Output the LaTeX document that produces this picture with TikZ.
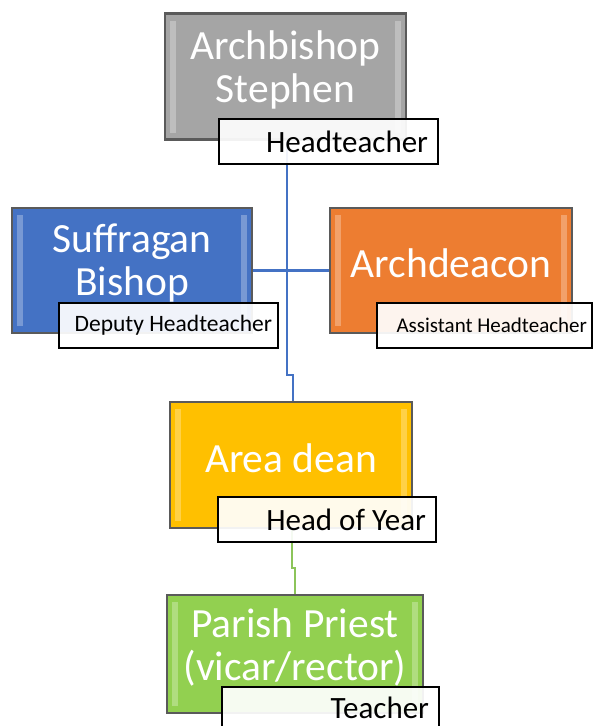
\documentclass[tikz,border=0pt]{standalone}
\usepackage{fontspec}
\setmainfont{Carlito}
\usetikzlibrary{positioning,backgrounds}
\definecolor{archgrey}{HTML}{A5A5A5}
\definecolor{suffblue}{HTML}{4472C4}
\definecolor{deaconorange}{HTML}{ED7D31}
\definecolor{deangold}{HTML}{FFC000}
\definecolor{priestgreen}{HTML}{92D050}
\definecolor{rimgrey}{HTML}{5A5A5A}
\definecolor{linkblue}{HTML}{4472C4}
\definecolor{linkgreen}{HTML}{8CC45A}

\begin{document}
\begin{tikzpicture}
[x=1pt,y=-1pt,
 rank/.style={rectangle,draw=rimgrey,line width=2.5pt,inner sep=0pt,
   minimum width=241pt,minimum height=126pt,
   path picture={
     \fill[white,opacity=0.28] ([xshift=5pt,yshift=-7pt]path picture bounding box.north west)
       rectangle ([xshift=11pt,yshift=7pt]path picture bounding box.south west);
     \fill[white,opacity=0.28] ([xshift=-5pt,yshift=-7pt]path picture bounding box.north east)
       rectangle ([xshift=-11pt,yshift=7pt]path picture bounding box.south east);}},
 ranktext/.style={text=white,align=center,inner sep=0pt,yshift=7pt,
   font=\fontsize{41.5}{43}\selectfont},
 role/.style={rectangle,draw=black,line width=1.3pt,fill=white,fill opacity=0.92,
   text opacity=1,text=black,minimum height=45pt,inner ysep=0pt,inner xsep=10pt,
   align=flush right,font=\fontsize{31}{36}\selectfont},
 link/.style={line width=2.5pt}]
\useasboundingbox (0,0) rectangle (593,726);

% ranks
\node[rank,fill=archgrey] (arch) at (285.5,76.5)
  [label={[ranktext]center:Archbishop\\Stephen}] {};
\node[rank,fill=suffblue,minimum width=240pt,minimum height=125pt] (suff) at (132,270.5)
  [label={[ranktext]center:Suffragan\\Bishop}] {};
\node[rank,fill=deaconorange,minimum width=242pt,minimum height=125pt] (archd) at (451,270.5)
  [label={[ranktext]center:Archdeacon}] {};
\node[rank,fill=deangold,minimum width=242pt] (dean) at (291,465)
  [label={[ranktext]center:Area dean}] {};
\node[rank,fill=priestgreen,minimum width=256pt,minimum height=118pt] (priest) at (295,654)
  [label={[ranktext]center:Parish Priest\\(vicar/rector)}] {};

% school roles
\node[role,text width=199pt] (head) at (328.5,141.5) {Headteacher};
\node[role,text width=207pt,inner xsep=6pt,font=\fontsize{23.5}{28}\selectfont] (deputy) at (168.5,325.5) {Deputy Headteacher};
\node[role,text width=205pt,inner xsep=5pt,font=\fontsize{21}{25}\selectfont] (assist) at (484.5,325.5) {Assistant Headteacher};
\node[role,text width=198pt] (year) at (327,519.5) {Head of Year};
\node[role,text width=197pt,minimum height=41pt] (teach) at (330.5,707.5) {Teacher};

\coordinate (bend1) at (287,375);
\coordinate (bend2) at (292,568);

\begin{scope}[on background layer]
\draw[link,linkblue] (arch.south -| bend1) |- (bend1) -| ([xshift=2pt]dean.north);
\draw[link,linkblue] (suff) -- (archd);
\draw[link,linkgreen] (dean.south -| bend2) |- (bend2) -| (priest.north);
\end{scope}
\end{tikzpicture}
\end{document}
